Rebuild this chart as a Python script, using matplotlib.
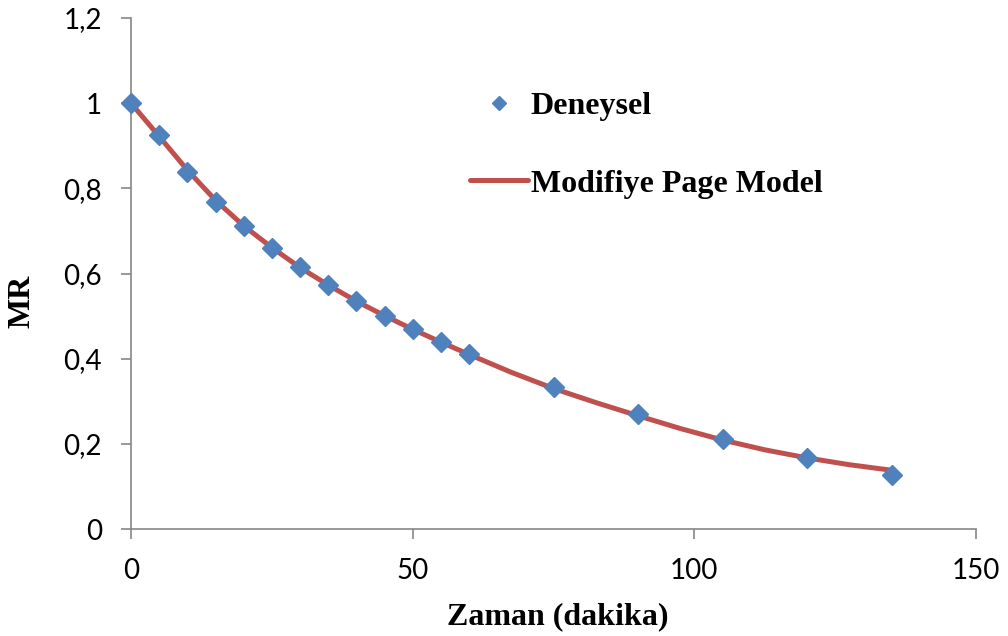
import matplotlib
matplotlib.use("Agg")
import matplotlib.pyplot as plt
from matplotlib.ticker import FuncFormatter

# Deneysel nem oranı (MR) değerleri
zaman = [0, 5, 10, 15, 20, 25, 30, 35, 40, 45, 50, 55, 60, 75, 90, 105, 120, 135]
mr_deneysel = [1.0, 0.925, 0.838, 0.768, 0.711, 0.660, 0.615, 0.573, 0.535, 0.500,
               0.469, 0.439, 0.411, 0.333, 0.270, 0.211, 0.167, 0.127]

# Modifiye Page model eğrisi
zaman_model = [0, 5, 10, 15, 20, 25, 30, 35, 40, 45, 50, 55, 60, 67.5, 75, 82.5,
               90, 97.5, 105, 112.5, 120, 127.5, 135]
mr_model = [1.0, 0.922, 0.843, 0.772, 0.712, 0.661, 0.614, 0.573, 0.535, 0.501,
            0.469, 0.439, 0.410, 0.368, 0.330, 0.297, 0.266, 0.236, 0.209, 0.186,
            0.167, 0.151, 0.138]

x_ticks = [0, 50, 100, 150]
y_ticks = [0, 0.2, 0.4, 0.6, 0.8, 1.0, 1.2]

mavi = "#4F81BD"
kirmizi = "#C0504D"
gri = "#868686"

fig = plt.figure(figsize=(10.08, 6.36), dpi=100)
ax = fig.add_axes([131 / 1008, 1 - 529 / 636, (976 - 131) / 1008, (529 - 18) / 636])

ax.plot(zaman_model, mr_model, color=kirmizi, lw=3.6, solid_capstyle="round",
        solid_joinstyle="round", label="Modifiye Page Model", zorder=2)
ax.plot(zaman, mr_deneysel, ls="none", marker="D", ms=10, color=mavi,
        mec=mavi, label="Deneysel", zorder=3, clip_on=False)

ax.set_xlim(0, 150)
ax.set_ylim(0, 1.2)
ax.set_xticks(x_ticks)
ax.set_yticks(y_ticks)
ax.yaxis.set_major_formatter(FuncFormatter(lambda v, p: f"{v:g}".replace(".", ",")))

for s in ["top", "right"]:
    ax.spines[s].set_visible(False)
for s in ["left", "bottom"]:
    ax.spines[s].set_color(gri)
    ax.spines[s].set_linewidth(1.2)

ax.tick_params(direction="out", length=7, width=1.2, color=gri, pad=14,
               labelsize=20, labelcolor="black")
for lbl in ax.get_xticklabels() + ax.get_yticklabels():
    lbl.set_fontfamily("Lato")

serif = "Liberation Serif"
fig.text(558 / 1008, 1 - 617 / 636, "Zaman (dakika)", ha="center", va="center",
         fontsize=23, fontweight="bold", family=serif)
fig.text(22 / 1008, 1 - 301 / 636, "MR", ha="center", va="center", rotation=90,
         fontsize=23, fontweight="bold", family=serif)

handles, labels = ax.get_legend_handles_labels()
leg = ax.legend(handles[::-1], labels[::-1], loc="upper left",
                bbox_to_anchor=(470 / 1008, 1 - 92 / 636),
                bbox_transform=fig.transFigure, frameon=False, borderpad=0,
                borderaxespad=0, handlelength=1.8, handletextpad=0.1,
                labelspacing=1.5, markerscale=0.75,
                prop={"family": serif, "weight": "bold", "size": 23})

fig.savefig("out.png", dpi=100)
